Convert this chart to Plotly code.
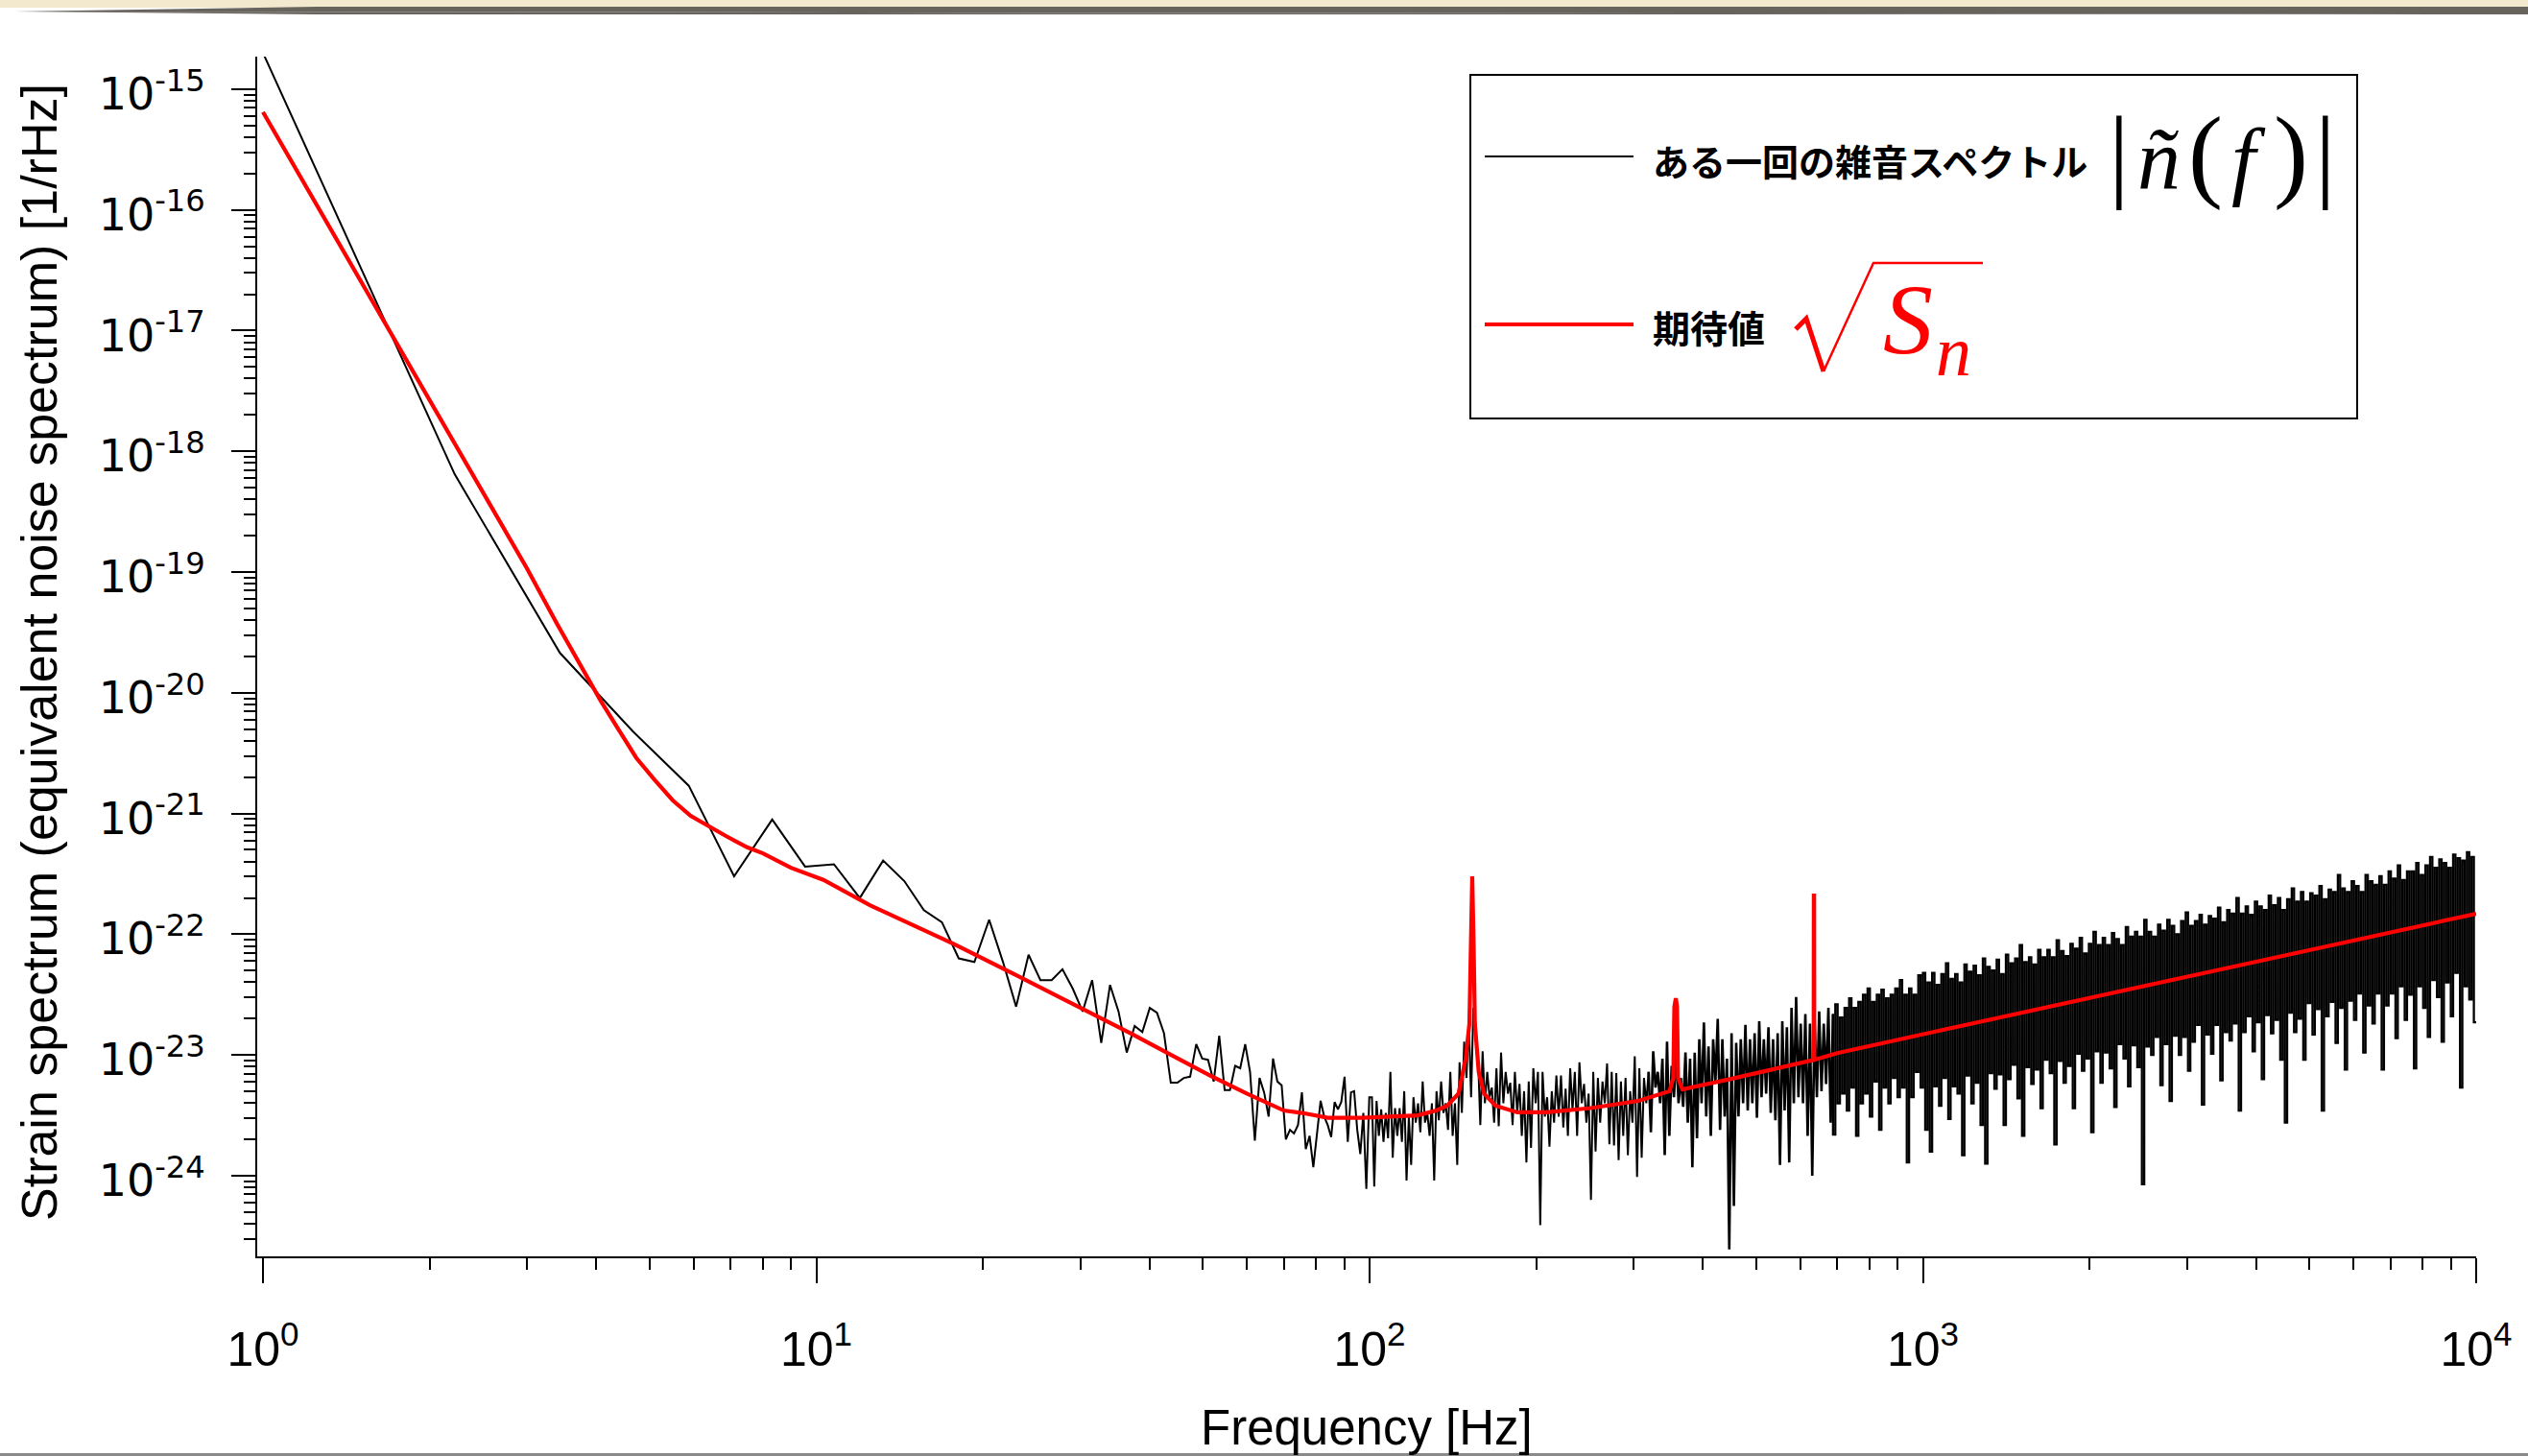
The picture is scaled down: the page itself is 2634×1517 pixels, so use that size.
import numpy as np
import plotly.graph_objects as go

W, H = 2634, 1517
ML, MR, MT, MB = 268, 54, 59, 208
PW, PH = W - ML - MR, H - MT - MB

def px(x):
    return (x - ML) / PW

def py(y):
    return (H - MB - y) / PH

# ---------------- data ----------------
# Expected value sqrt(S_n): frequency [Hz] and log10 amplitude [1/rHz]
red_freq = [1.0, 1.5, 2.0, 3.0, 3.4, 3.8, 4.07, 4.4, 4.73, 5.1, 5.5, 5.93, 6.4, 6.89, 7.5, 8.01, 9.0,
            10.3, 12.5, 17.7, 23.0, 30.2, 37.0,
            44.2, 51.5, 60.0, 64.8, 70.0, 75.5, 84.0, 97.0, 110.0, 122.0, 132.0, 138.2, 144.8, 149.2,
            151.5, 152.9, 153.3, 154.2, 155.0, 157.5, 161.1, 168.8, 185.0, 209.0, 251.0, 306.0, 348.5,
            353.9, 355.5, 357.7, 359.5, 361.0, 367.7, 448.0, 530.0, 628.0, 634.8, 635.2, 636.0, 636.4,
            700.0, 1068.0, 2000.0, 5000.0, 10000.0]
red_log = [-15.19, -16.59, -17.58, -18.97, -19.43, -19.82, -20.06, -20.31, -20.54, -20.72, -20.89,
           -21.02, -21.11, -21.19, -21.28, -21.33, -21.45,
           -21.55, -21.76, -22.08, -22.34, -22.61, -22.82,
           -23.01, -23.17, -23.32, -23.39, -23.46, -23.48, -23.52, -23.52,
           -23.51, -23.50, -23.46, -23.42, -23.32, -23.03, -22.74, -21.81, -21.52, -22.08, -22.74, -23.14,
           -23.32, -23.42, -23.475, -23.475, -23.44, -23.38, -23.30, -23.19, -22.60, -22.53, -22.60, -23.19,
           -23.285, -23.20, -23.12, -23.045, -23.04, -21.68, -21.68, -23.04, -22.985, -22.80, -22.53,
           -22.13, -21.83]

# One realisation |n~(f)|, log10 values at the first FFT bins (1 Hz + k*df)
FFT_BIN = 9999 / 8191
noise_low_log = [-14.70, -18.19, -19.67, -20.32, -20.77, -21.52, -21.05, -21.44, -21.42, -21.70,
                 -21.39, -21.56, -21.80, -21.90, -22.20, -22.23, -21.88, -22.23, -22.60, -22.17,
                 -22.38, -22.38, -22.29, -22.45, -22.64, -22.38, -22.90, -22.42, -22.64, -22.98,
                 -22.76, -22.81, -22.61, -22.65, -22.82, -23.23, -23.23, -23.19, -23.18, -22.91,
                 -23.03, -23.04, -23.22, -22.84, -23.29, -23.29, -23.09, -23.11, -22.91, -23.14,
                 -23.71, -23.19, -23.31, -23.51, -23.03, -23.22, -23.25, -23.70, -23.62, -23.65,
                 -23.58, -23.31, -23.78, -23.67, -23.93, -23.64, -23.38, -23.51, -23.58, -23.68,
                 -23.39, -23.45, -23.39, -23.18, -23.72, -23.31, -23.30, -23.62, -23.82, -23.48,
                 -24.11, -23.35]

# Above ~100 Hz the trace is too dense to resolve: local maxima / minima read per ~5 px column
noise_upper_log = [
    -23.35, -23.38, -23.45, -23.48, -23.14, -23.44, -23.44, -23.30, -23.51, -23.35,
    -23.40, -23.22, -23.48, -23.40, -23.30, -23.22, -23.40, -23.14, -23.40, -23.06,
    -22.89, -22.71, -22.61, -23.01, -22.97, -23.14, -23.27, -23.11, -22.98, -23.14,
    -23.23, -23.14, -23.24, -23.30, -23.22, -23.11, -23.14, -23.14, -23.35, -23.30,
    -23.17, -23.17, -23.28, -23.11, -23.14, -23.06, -23.24, -23.32, -23.14, -23.19,
    -23.22, -23.07, -23.14, -23.15, -23.22, -23.19, -23.30, -23.01, -23.11, -23.19,
    -23.14, -22.97, -23.14, -23.03, -22.89, -23.09, -22.98, -23.19, -22.98, -23.03,
    -22.98, -22.87, -22.73, -22.93, -22.87, -22.70, -22.87, -23.03, -22.82, -22.90,
    -22.87, -22.75, -22.87, -22.82, -22.72, -22.87, -22.77, -22.87, -22.82, -22.72,
    -22.77, -22.61, -22.52, -22.74, -22.66, -22.74, -22.69, -22.64, -22.74, -22.61,
    -22.66, -22.58, -22.69, -22.61, -22.53, -22.61, -22.56, -22.50, -22.45, -22.56,
    -22.50, -22.46, -22.53, -22.50, -22.45, -22.38, -22.50, -22.45, -22.50, -22.34,
    -22.32, -22.40, -22.32, -22.42, -22.33, -22.24, -22.37, -22.33, -22.40, -22.25,
    -22.31, -22.26, -22.34, -22.20, -22.27, -22.30, -22.21, -22.33, -22.17, -22.24,
    -22.20, -22.09, -22.23, -22.19, -22.25, -22.13, -22.19, -22.13, -22.19, -22.05,
    -22.14, -22.18, -22.08, -22.12, -22.03, -22.16, -22.08, -21.98, -22.09, -22.03,
    -22.09, -21.99, -22.04, -22.09, -21.94, -22.02, -21.98, -22.02, -21.88, -21.98,
    -22.02, -21.92, -21.97, -21.88, -21.93, -22.00, -21.89, -21.82, -21.93, -21.89,
    -21.84, -21.92, -21.85, -21.87, -21.78, -21.90, -21.80, -21.83, -21.70, -21.83,
    -21.77, -21.84, -21.73, -21.77, -21.80, -21.68, -21.76, -21.70, -21.80, -21.71,
    -21.62, -21.73, -21.65, -21.73, -21.66, -21.68, -21.60, -21.71, -21.63, -21.65,
    -21.51, -21.62, -21.65, -21.56, -21.60, -21.65, -21.51, -21.56, -21.59, -21.52,
    -21.59, -21.48, -21.54, -21.43, -21.55, -21.48, -21.48, -21.41, -21.51, -21.43,
    -21.36, -21.45, -21.38, -21.41, -21.45, -21.34, -21.37, -21.39, -21.32, -21.36]
noise_lower_log = [
    -24.09, -23.67, -23.72, -23.69, -23.85, -23.67, -23.72, -24.04, -23.91, -23.56,
    -23.64, -23.56, -23.67, -24.04, -23.54, -23.48, -23.62, -23.67, -23.91, -23.48,
    -23.19, -23.35, -22.87, -23.58, -23.40, -23.35, -23.56, -23.59, -23.40, -23.32,
    -23.58, -23.48, -23.67, -23.89, -23.77, -23.40, -24.41, -23.51, -23.76, -23.56,
    -23.51, -23.60, -23.67, -23.46, -23.67, -23.40, -23.56, -24.20, -23.80, -23.56,
    -23.40, -23.74, -23.75, -23.87, -23.67, -23.83, -23.56, -24.01, -23.85, -23.40,
    -23.64, -23.27, -23.40, -23.83, -23.67, -23.35, -23.40, -23.43, -23.56, -23.93,
    -23.69, -23.40, -23.51, -23.67, -23.22, -23.62, -23.51, -24.61, -24.25, -23.51,
    -23.40, -23.46, -23.40, -23.52, -23.35, -23.32, -23.48, -23.54, -23.91, -23.46,
    -23.89, -23.40, -23.35, -23.40, -23.67, -24.00, -23.35, -23.30, -23.24, -23.56,
    -23.66, -23.40, -23.32, -23.46, -23.27, -23.67, -23.40, -23.32, -23.51, -23.22,
    -23.62, -23.27, -23.40, -23.19, -23.35, -23.27, -23.89, -23.35, -23.14, -23.27,
    -23.62, -23.80, -23.26, -23.42, -23.19, -23.53, -23.26, -23.32, -23.83, -23.17,
    -23.40, -23.23, -23.58, -23.90, -23.15, -23.28, -23.16, -23.58, -23.20, -23.08,
    -23.36, -23.67, -23.10, -23.24, -23.12, -23.44, -23.04, -23.15, -23.74, -23.05,
    -23.23, -23.09, -23.44, -22.99, -23.13, -23.03, -23.64, -22.97, -23.23, -22.98,
    -23.11, -23.43, -22.91, -23.03, -23.26, -22.92, -23.10, -24.07, -22.93, -23.00,
    -22.85, -23.25, -22.91, -23.38, -22.84, -23.00, -22.85, -23.13, -22.89, -22.75,
    -23.41, -22.83, -22.99, -22.75, -23.21, -22.81, -22.88, -22.74, -23.46, -22.81,
    -22.68, -22.97, -22.73, -23.20, -22.67, -22.82, -22.71, -23.04, -23.56, -22.65,
    -22.81, -22.70, -23.04, -22.57, -22.83, -22.62, -23.46, -22.68, -22.56, -22.90,
    -22.61, -23.12, -22.55, -22.71, -22.49, -22.98, -22.59, -22.74, -22.49, -23.12,
    -22.59, -22.49, -22.86, -22.43, -22.71, -22.50, -23.11, -22.43, -22.61, -22.85,
    -22.38, -22.52, -22.89, -22.40, -22.68, -22.32, -23.27, -22.43, -22.54, -22.73]

x_tick_vals = [1, 10, 100, 1000, 10000]
x_tick_text = ["10<sup>0</sup>", "10<sup>1</sup>", "10<sup>2</sup>", "10<sup>3</sup>", "10<sup>4</sup>"]
y_exponents = [-15, -16, -17, -18, -19, -20, -21, -22, -23, -24]
y_tick_vals = [10.0 ** e for e in y_exponents]
y_tick_text = ["10<sup>%d</sup>" % e for e in y_exponents]

legend_noise = "ある一回の雑音スペクトル"
legend_expect = "期待値"

# ---------------- assemble traces ----------------
low_freq = [1 + k * FFT_BIN for k in range(len(noise_low_log))]
dense_freq = list(np.geomspace(101, 10000, 2 * len(noise_upper_log)))
dense_log = [v for pair in zip(noise_upper_log, noise_lower_log) for v in pair]
dense_amp = list(10.0 ** np.array(dense_log))

J1, J2 = 60, 100   # column index where the trace gets denser (~320 Hz) / becomes a solid band (~680 Hz)
seg_sparse_x = low_freq + dense_freq[:2 * J1 + 1]
seg_sparse_y = list(10.0 ** np.array(noise_low_log)) + dense_amp[:2 * J1 + 1]
seg_mid_x, seg_mid_y = dense_freq[2 * J1:2 * J2 + 1], dense_amp[2 * J1:2 * J2 + 1]
seg_band_x, seg_band_y = dense_freq[2 * J2:], dense_amp[2 * J2:]

fig = go.Figure()
fig.add_trace(go.Scatter(x=seg_sparse_x, y=seg_sparse_y, mode="lines",
                         line=dict(color="black", width=2), hoverinfo="skip"))
fig.add_trace(go.Scatter(x=seg_mid_x, y=seg_mid_y, mode="lines",
                         line=dict(color="black", width=2.6), hoverinfo="skip"))
fig.add_trace(go.Scatter(x=seg_band_x, y=seg_band_y, mode="lines",
                         line=dict(color="black", width=2.3, shape="vh"), hoverinfo="skip"))
fig.add_trace(go.Scatter(x=red_freq, y=list(10.0 ** np.array(red_log)), mode="lines",
                         line=dict(color="#ff0000", width=4.2, shape="linear"), hoverinfo="skip"))

minor_x = [m * 10 ** e for e in range(0, 4) for m in range(2, 10)]
minor_y = [m * 10.0 ** e for e in range(-25, -14) for m in range(2, 10)]

axis_common = dict(showgrid=False, zeroline=False, showline=True, linecolor="black", linewidth=2,
                   ticks="outside", tickcolor="black", tickwidth=2, mirror=False)

fig.update_xaxes(type="log", range=[-0.0104, 4.0], tickmode="array", tickvals=x_tick_vals,
                 ticktext=x_tick_text, ticklen=26,
                 tickfont=dict(family="Liberation Sans", size=50, color="black"),
                 minor=dict(tickmode="array", tickvals=minor_x, ticks="outside", ticklen=12,
                            tickwidth=2, tickcolor="black", showgrid=False),
                 ticklabelstandoff=26, **axis_common)
fig.update_yaxes(type="log", range=[-24.668, -14.731], tickmode="array", tickvals=y_tick_vals,
                 ticktext=y_tick_text, ticklen=25,
                 tickfont=dict(family="DejaVu Sans", size=46, color="black"),
                 minor=dict(tickmode="array", tickvals=minor_y, ticks="outside", ticklen=12,
                            tickwidth=2, tickcolor="black", showgrid=False),
                 ticklabelstandoff=18, ticklabelshift=5, **axis_common)

shapes = []
# page decoration: parchment band + dark strip at top, grey rule at bottom
shapes.append(dict(type="rect", xref="paper", yref="paper", x0=px(0), x1=px(W), y0=py(0), y1=py(8),
                   fillcolor="#f3e9cf", line=dict(width=0), layer="above"))
shapes.append(dict(type="path", xref="paper", yref="paper",
                   path="M %f,%f L %f,%f L %f,%f L %f,%f Z" % (px(15), py(12), px(330), py(7),
                                                              px(W), py(7), px(W), py(15)),
                   fillcolor="#67635d", line=dict(width=0), layer="above"))
shapes.append(dict(type="path", xref="paper", yref="paper",
                   path="M %f,%f L %f,%f L %f,%f L %f,%f Z" % (px(15), py(12), px(330), py(15),
                                                              px(W), py(15), px(W), py(15)),
                   fillcolor="#67635d", line=dict(width=0), layer="above"))
shapes.append(dict(type="rect", xref="paper", yref="paper", x0=px(0), x1=px(W), y0=py(1514), y1=py(1517),
                   fillcolor="#8a8a8a", line=dict(width=0), layer="above"))
# legend box
shapes.append(dict(type="rect", xref="paper", yref="paper", x0=px(1532), x1=px(2456), y0=py(78), y1=py(436),
                   fillcolor="white", line=dict(color="black", width=2), layer="above"))
shapes.append(dict(type="line", xref="paper", yref="paper", x0=px(1547), x1=px(1702), y0=py(163), y1=py(163),
                   line=dict(color="black", width=2), layer="above"))
shapes.append(dict(type="line", xref="paper", yref="paper", x0=px(1547), x1=px(1702), y0=py(338), y1=py(338),
                   line=dict(color="#ff0000", width=4.2), layer="above"))
# radical sign of sqrt(S_n)
shapes.append(dict(type="path", xref="paper", yref="paper",
                   path="M %f,%f L %f,%f L %f,%f" % (px(1871), py(343), px(1882), py(332), px(1900), py(387)),
                   line=dict(color="#ff0000", width=5), layer="above"))
shapes.append(dict(type="path", xref="paper", yref="paper",
                   path="M %f,%f L %f,%f L %f,%f" % (px(1900), py(387), px(1952), py(274), px(2066), py(274)),
                   line=dict(color="#ff0000", width=2.5), layer="above"))

annotations = []
def ann(text, x, y, size, family, color="black", xanchor="left", yanchor="middle", angle=0):
    annotations.append(dict(text=text, x=px(x), y=py(y), xref="paper", yref="paper", showarrow=False,
                            xanchor=xanchor, yanchor=yanchor, textangle=angle,
                            font=dict(family=family, size=size, color=color)))

ann("<b>" + legend_noise + "</b>", 1720, 166, 38, "Noto Sans CJK JP")
ann("<b>" + legend_expect + "</b>", 1720, 340, 39, "Noto Sans CJK JP")
serif = "Liberation Serif"
ann("|", 2208, 160, 108, serif, xanchor="center")
ann("<i>ñ</i>", 2249, 166, 90, serif, xanchor="center")
ann("(", 2298, 160, 108, serif, xanchor="center")
ann("<i>f</i>", 2343, 166, 90, serif, xanchor="center")
ann(")", 2387, 160, 108, serif, xanchor="center")
ann("|", 2423, 160, 108, serif, xanchor="center")
ann("<i>S</i>", 1988, 332, 104, serif, color="#ff0000", xanchor="center")
ann("<i>n</i>", 2036, 366, 74, serif, color="#ff0000", xanchor="center")
# axis titles
ann("Frequency [Hz]", 1424, 1487, 51, "Liberation Sans", xanchor="center")
ann("Strain spectrum (equivalent noise spectrum) [1/rHz]", 41, 680, 52, "Liberation Sans",
    xanchor="center", angle=-90)

fig.update_layout(width=W, height=H, autosize=False,
                  margin=dict(l=ML, r=MR, t=MT, b=MB, pad=0),
                  paper_bgcolor="white", plot_bgcolor="white", showlegend=False,
                  shapes=shapes, annotations=annotations)

fig.write_html("out.html")
